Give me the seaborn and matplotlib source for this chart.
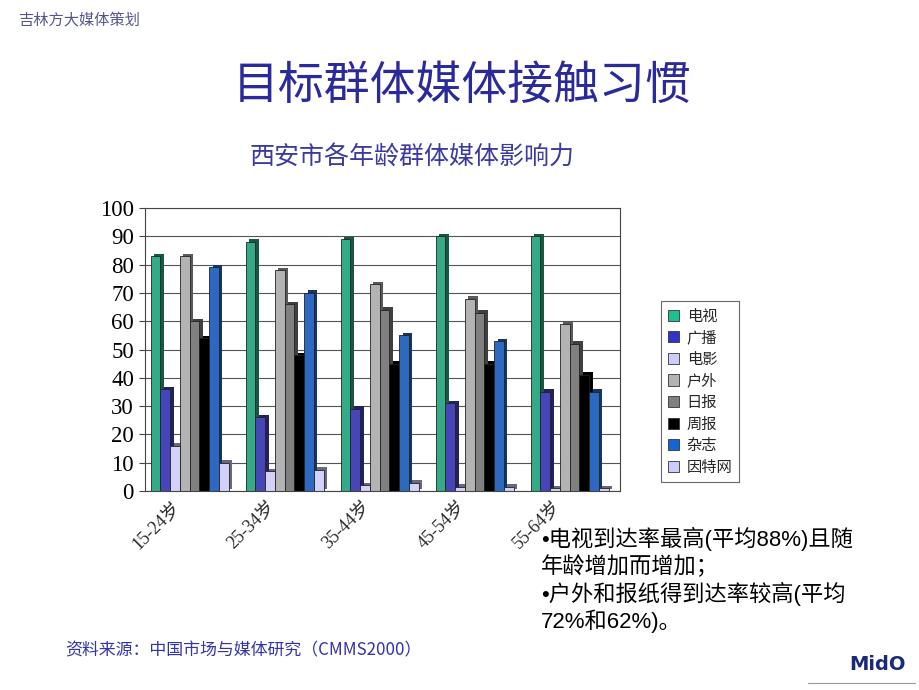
import matplotlib
matplotlib.use("Agg")
import matplotlib.pyplot as plt
import matplotlib.patheffects as pe
from matplotlib.patches import Patch
import seaborn as sns
import pandas as pd

sns.set_style("white")
plt.rcParams['font.family'] = ['Noto Sans CJK SC', 'DejaVu Sans']
plt.rcParams['ytick.left'] = True
plt.rcParams['ytick.major.size'] = 4
plt.rcParams['ytick.major.width'] = 0.8
plt.rcParams['ytick.direction'] = 'out'
plt.rcParams['ytick.color'] = '#444444'

age_groups = ["15-24岁", "25-34岁", "35-44岁", "45-54岁", "55-64岁"]
media = ["电视", "广播", "电影", "户外", "日报", "周报", "杂志", "因特网"]
tv       = [83, 88, 89, 90, 90]
radio    = [36, 26, 29, 31, 35]
movie    = [16, 7, 2, 1.5, 1]
outdoor  = [83, 78, 73, 68, 59]
daily    = [60, 66, 64, 63, 52]
weekly   = [54, 48, 45, 45, 41]
magazine = [79, 70, 55, 53, 35]
internet = [10, 7.5, 3, 1.5, 1]
colors = ["#1fbf8f", "#3333cc", "#ccccff", "#b3b3b3", "#808080", "#000000", "#1565d8", "#ccccff"]

series = [tv, radio, movie, outdoor, daily, weekly, magazine, internet]
rows = []
for m, vals in zip(media, series):
    for g, v in zip(age_groups, vals):
        rows.append({"age": g, "media": m, "value": v})
df = pd.DataFrame(rows)

fig = plt.figure(figsize=(9.2, 6.9), dpi=100)
ax = fig.add_axes([145/920, 1-491/690, 475/920, 283/690])
sns.barplot(data=df, x="age", y="value", hue="media", hue_order=media,
            palette=colors, width=0.82, edgecolor="#222222", linewidth=0.6,
            ax=ax, legend=False)
for p in ax.patches:
    p.set_path_effects([pe.SimplePatchShadow(offset=(2.5, 1.8), rho=0.5, alpha=1.0), pe.Normal()])

ax.set_ylim(0, 100)
ax.set_xlim(-0.47, 4.53)
ax.set_yticks(range(0, 101, 10))
ax.yaxis.grid(True, color="#555555", linewidth=0.8)
ax.set_axisbelow(True)
for s in ax.spines.values():
    s.set_color("#444444")
    s.set_linewidth(0.8)
ax.set_xlabel("")
ax.set_ylabel("")
ax.tick_params(axis="y", labelsize=16.5, pad=4, labelcolor="black")
for t in ax.get_yticklabels():
    t.set_family(["Liberation Serif", "DejaVu Serif"])
# labels sit a little left of each group centre, as in the reference
ax.set_xticks([i - 0.19 for i in range(len(age_groups))])
ax.set_xticklabels(age_groups, rotation=45, ha="right", rotation_mode="anchor", fontsize=13)
for t in ax.get_xticklabels():
    t.set_family(["Liberation Serif", "Noto Sans CJK SC"])
ax.tick_params(axis="x", length=0, pad=5)

# legend
handles = [Patch(facecolor=c, edgecolor="#333333", linewidth=0.6) for c in colors]
leg = fig.legend(handles, media, loc="upper left", bbox_to_anchor=(653/920, 1-293/690),
                 frameon=True, fontsize=11, handlelength=0.75, handleheight=0.75,
                 labelspacing=0.3, borderpad=0.45, handletextpad=0.5, fancybox=False)
leg.get_frame().set_edgecolor("#444444")
leg.get_frame().set_linewidth(0.8)

fig.text(18/920, 1-20/690, "吉林方大媒体策划", fontsize=11, color="#55558a", va="center")
fig.text(462/920, 1-86/690, "目标群体媒体接触习惯", fontsize=33, color="#2a2a9a", ha="center", va="center")
fig.text(412/920, 1-158/690, "西安市各年龄群体媒体影响力", fontsize=18, color="#3a3aa0", ha="center", va="center")

notes = "•电视到达率最高(平均88%)且随\n年龄增加而增加；\n•户外和报纸得到达率较高(平均\n72%和62%)。"
fig.text(541/920, 1-527/690, notes, fontsize=16, color="#000000", va="top", linespacing=1.22,
         family=["Liberation Sans", "Noto Sans CJK SC"])

fig.text(65/920, 1-650/690, "资料来源：中国市场与媒体研究（CMMS2000）", fontsize=12.2, color="#3333aa", va="center")

fig.text(878/920, 1-664/690, "MidO", fontsize=14, fontweight="bold", color="#1a2a7a", ha="center", va="center",
         family="DejaVu Sans")
fig.add_artist(plt.Line2D([808/920, 915/920], [1-683/690, 1-683/690], color="#999999", linewidth=0.8))

fig.savefig("out.png", dpi=100)
